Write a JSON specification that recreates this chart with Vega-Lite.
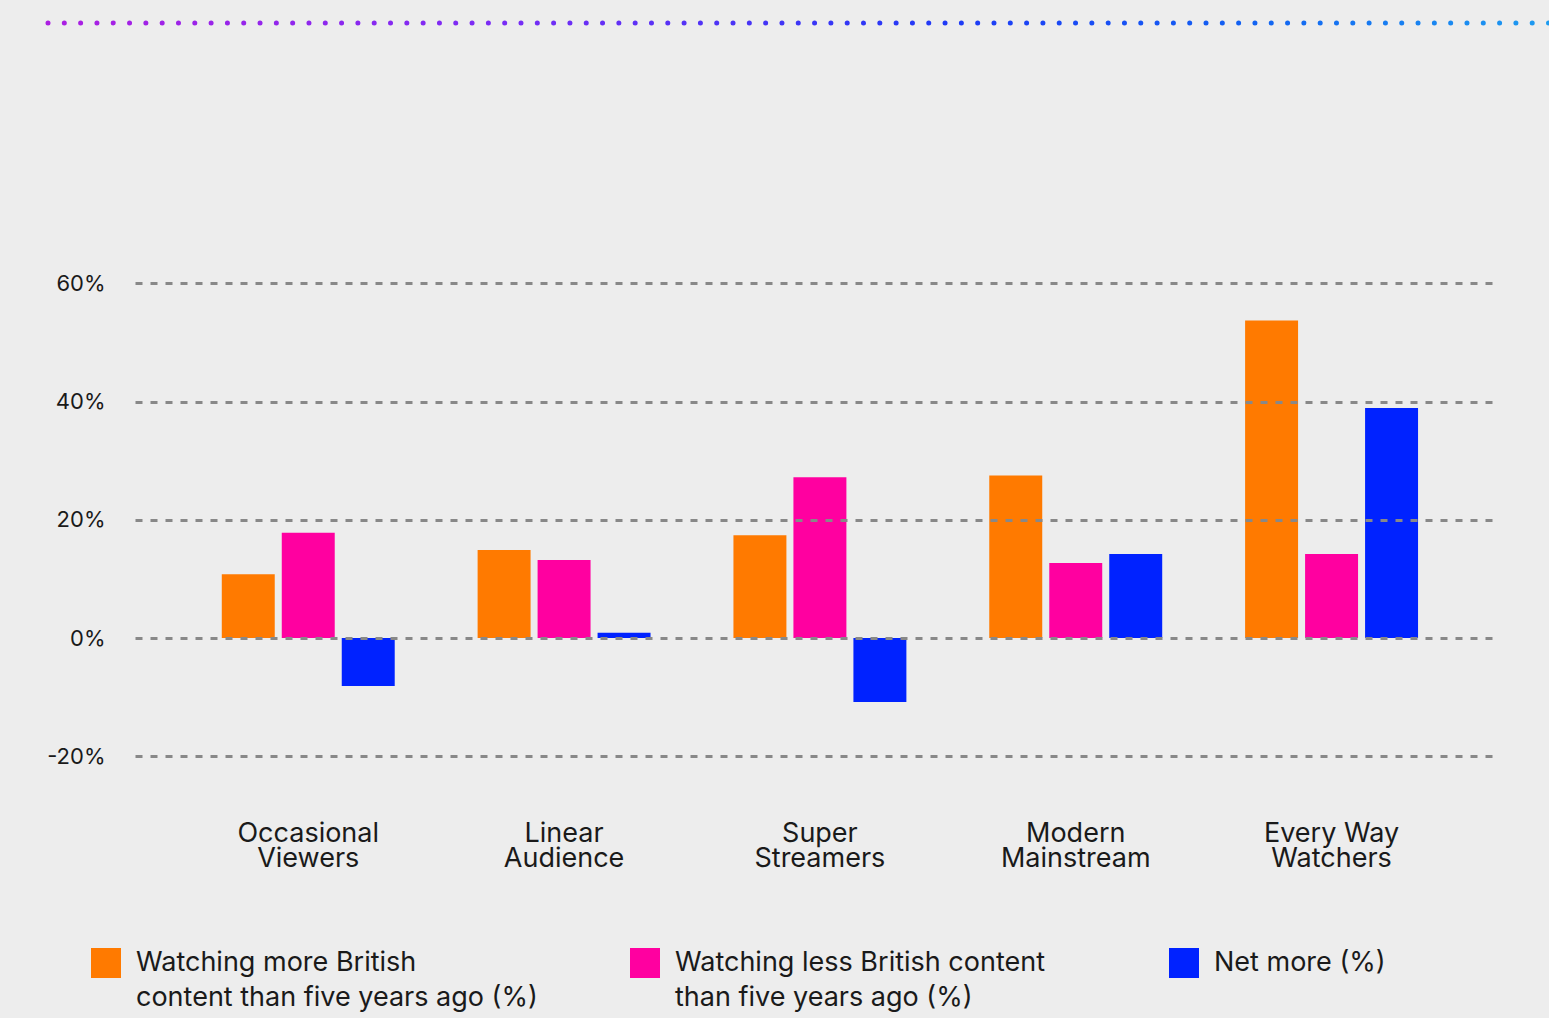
{
  "$schema": "https://vega.github.io/schema/vega-lite/v6.json",
  "autosize": {"type": "none"},
  "width": 1360,
  "height": 769,
  "padding": {"left": 135, "top": 17, "right": 54, "bottom": 232},
  "background": "#ededed",
  "config": {
    "view": {"stroke": null},
    "font": "Inter",
    "axis": {"labelFont": "Inter", "labelColor": "#1a1a1a"},
    "legend": {"labelFont": "Inter", "labelColor": "#1a1a1a"},
    "style": {"guide-label": {"lineHeight": 35}}
  },
  "datasets": {
    "bars": [
      {"group": "Occasional Viewers", "series": "Watching more British content than five years ago (%)", "value": 10.8},
      {"group": "Occasional Viewers", "series": "Watching less British content than five years ago (%)", "value": 17.8},
      {"group": "Occasional Viewers", "series": "Net more (%)", "value": -8.1},
      {"group": "Linear Audience", "series": "Watching more British content than five years ago (%)", "value": 14.9},
      {"group": "Linear Audience", "series": "Watching less British content than five years ago (%)", "value": 13.2},
      {"group": "Linear Audience", "series": "Net more (%)", "value": 0.9},
      {"group": "Super Streamers", "series": "Watching more British content than five years ago (%)", "value": 17.4},
      {"group": "Super Streamers", "series": "Watching less British content than five years ago (%)", "value": 27.2},
      {"group": "Super Streamers", "series": "Net more (%)", "value": -10.8},
      {"group": "Modern Mainstream", "series": "Watching more British content than five years ago (%)", "value": 27.5},
      {"group": "Modern Mainstream", "series": "Watching less British content than five years ago (%)", "value": 12.7},
      {"group": "Modern Mainstream", "series": "Net more (%)", "value": 14.2},
      {"group": "Every Way Watchers", "series": "Watching more British content than five years ago (%)", "value": 53.7},
      {"group": "Every Way Watchers", "series": "Watching less British content than five years ago (%)", "value": 14.2},
      {"group": "Every Way Watchers", "series": "Net more (%)", "value": 38.9}
    ]
  },
  "resolve": {"scale": {"x": "independent"}, "axis": {"x": "independent"}},
  "layer": [
    {
      "data": {"name": "bars"},
      "mark": {"type": "bar"},
      "encoding": {
        "x": {
          "field": "group",
          "type": "nominal",
          "sort": ["Occasional Viewers", "Linear Audience", "Super Streamers", "Modern Mainstream", "Every Way Watchers"],
          "scale": {"paddingInner": 0.324, "paddingOuter": 0.32, "align": 0.53},
          "axis": {
            "title": null,
            "domain": false,
            "ticks": false,
            "labelAngle": 0,
            "labelFontSize": 27,
            "labelLineHeight": 25,
            "labelPadding": 34,
            "labelBaseline": "top",
            "labelExpr": "datum.label == 'Every Way Watchers' ? ['Every Way', 'Watchers'] : split(datum.label, ' ')"
          }
        },
        "xOffset": {
          "field": "series",
          "type": "nominal",
          "sort": ["Watching more British content than five years ago (%)", "Watching less British content than five years ago (%)", "Net more (%)"],
          "scale": {"paddingInner": 0.117, "paddingOuter": 0}
        },
        "y": {
          "field": "value",
          "type": "quantitative",
          "scale": {"domain": [-25, 105], "nice": false, "zero": false},
          "axis": {
            "title": null,
            "values": [-20, 0, 20, 40, 60],
            "labelExpr": "datum.value + '%'",
            "domain": false,
            "ticks": false,
            "labelFontSize": 22,
            "labelPadding": 30,
            "grid": true,
            "gridColor": "#888888",
            "gridDash": [7, 8],
            "gridWidth": 3,
            "zindex": 1
          }
        },
        "color": {
          "field": "series",
          "type": "nominal",
          "scale": {
            "domain": ["Watching more British content than five years ago (%)", "Watching less British content than five years ago (%)", "Net more (%)"],
            "range": ["#ff7a00", "#ff00a0", "#0022ff"]
          },
          "legend": {
            "title": null,
            "orient": "none",
            "legendX": -44,
            "legendY": 931,
            "direction": "horizontal",
            "columns": 3,
            "gridAlign": "all",
            "columnPadding": 92,
            "symbolType": "square",
            "symbolSize": 900,
            "symbolStrokeWidth": 0,
            "symbolOpacity": 1,
            "labelOffset": 15,
            "labelFontSize": 27,
            "labelLimit": 700,
            "labelExpr": "datum.label == 'Net more (%)' ? ['Net more (%)', ' '] : datum.label == 'Watching more British content than five years ago (%)' ? ['Watching more British', 'content than five years ago (%)'] : ['Watching less British content', 'than five years ago (%)']"
          }
        }
      }
    },
    {
      "data": {"values": [{}]},
      "mark": {
        "type": "rule",
        "strokeWidth": 5,
        "strokeCap": "round",
        "strokeDash": [0.01, 16.3],
        "stroke": {
          "gradient": "linear",
          "stops": [
            {"offset": 0, "color": "#ac1fe2"},
            {"offset": 0.3, "color": "#7a2cf5"},
            {"offset": 0.6, "color": "#1f3af6"},
            {"offset": 0.8, "color": "#1262f2"},
            {"offset": 1, "color": "#1e9cf0"}
          ]
        }
      },
      "encoding": {
        "x": {"datum": 0, "type": "quantitative", "scale": {"domain": [0.05796, 0.96402], "nice": false, "zero": false}, "axis": null},
        "x2": {"datum": 1},
        "y": {"datum": 104},
        "y2": {"datum": 104.005}
      }
    }
  ]
}
